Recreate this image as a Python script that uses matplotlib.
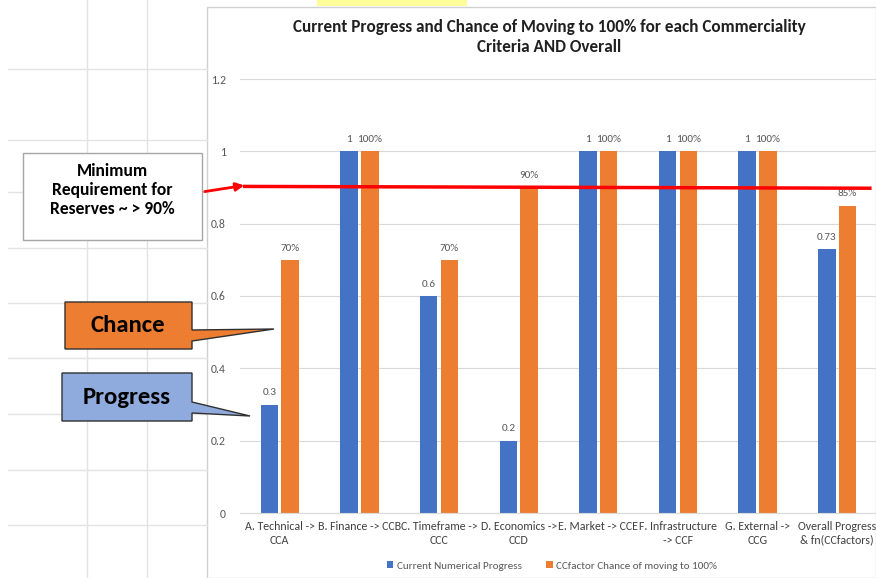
import numpy as np
import matplotlib.pyplot as plt
from matplotlib.patches import Polygon, Rectangle

plt.rcParams['font.family'] = ['Carlito', 'Lato', 'DejaVu Sans']

categories = ["A. Technical ->\nCCA", "B. Finance -> CCB", "C. Timeframe ->\nCCC",
              "D. Economics ->\nCCD", "E. Market -> CCE", "F. Infrastructure\n-> CCF",
              "G. External ->\nCCG", "Overall Progress\n& fn(CCfactors)"]
progress = [0.3, 1, 0.6, 0.2, 1, 1, 1, 0.73]
chance = [0.7, 1, 0.7, 0.9, 1, 1, 1, 0.85]
progress_labels = ["0.3", "1", "0.6", "0.2", "1", "1", "1", "0.73"]
chance_labels = ["70%", "100%", "70%", "90%", "100%", "100%", "100%", "85%"]
min_requirement = 0.9

BLUE = "#4472C4"
ORANGE = "#ED7D31"
GRAY = "#595959"
W, H = 876, 578

fig = plt.figure(figsize=(W / 100, H / 100), dpi=100)

# spreadsheet background (pixel coords)
bg = fig.add_axes([0, 0, 1, 1], zorder=0)
bg.set_xlim(0, W)
bg.set_ylim(H, 0)
bg.axis("off")
for y in [69, 140, 192, 248, 303, 358, 414, 470, 525]:
    bg.plot([8, 207], [y, y], color="#E3E3E3", lw=1)
for x in [87, 147]:
    bg.plot([x, x], [0, H], color="#E3E3E3", lw=1)
bg.add_patch(Rectangle((317, 0), 150, 6, color="#FFFF99", lw=0))
bg.add_patch(Rectangle((207, 7), W - 207, H - 7, facecolor="white",
                       edgecolor="#D0D0D0", lw=1))

# main chart
ax = fig.add_axes([240 / W, 65 / H, 637 / W, 434 / H], zorder=1)
ax.patch.set_alpha(0)
x = np.arange(len(categories))
bw = 0.22
off = 0.13
ax.bar(x - off, progress, bw, color=BLUE, label="Current Numerical Progress", zorder=2)
ax.bar(x + off, chance, bw, color=ORANGE, label="CCfactor Chance of moving to 100%", zorder=2)
for xi, v, t in zip(x, progress, progress_labels):
    ax.text(xi - off, v + 0.02, t, ha="center", va="bottom", fontsize=8, color=GRAY)
for xi, v, t in zip(x, chance, chance_labels):
    ax.text(xi + off, v + 0.02, t, ha="center", va="bottom", fontsize=8, color=GRAY)

ax.set_xlim(-0.5, len(categories) - 0.5)
ax.set_ylim(0, 1.2)
ax.set_yticks(np.arange(0, 1.21, 0.2))
ax.set_yticklabels(["0", "0.2", "0.4", "0.6", "0.8", "1", "1.2"])
ax.set_xticks(x)
ax.set_xticklabels(categories, fontsize=8.6, color="#404040", linespacing=1.25)
ax.tick_params(axis="y", length=0, pad=10, labelsize=8.5, labelcolor=GRAY)
ax.tick_params(axis="x", length=0, pad=6)
ax.grid(axis="y", color="#D9D9D9", lw=0.8, zorder=0)
for s in ["top", "right", "left"]:
    ax.spines[s].set_visible(False)
ax.spines["bottom"].set_color("#D9D9D9")

# red minimum requirement line
ax.plot([-0.44, 7.41], [min_requirement + 0.003, min_requirement - 0.002],
        color="#FF0000", lw=2.5, zorder=3, clip_on=False)

fig.text(549 / W, 1 - 37 / H,
         "Current Progress and Chance of Moving to 100% for each Commerciality\nCriteria AND Overall",
         ha="center", va="center", fontsize=12.3, fontweight="bold", color="#202020",
         linespacing=1.35)

fig.legend(loc="center", bbox_to_anchor=(552 / W, 1 - 566 / H), ncol=2, frameon=False,
           fontsize=8, labelcolor=GRAY, handlelength=0.6, handleheight=0.6,
           handletextpad=0.3, columnspacing=2.2)

# callouts (pixel coords)
top = fig.add_axes([0, 0, 1, 1], zorder=3)
top.set_xlim(0, W)
top.set_ylim(H, 0)
top.axis("off")
top.patch.set_alpha(0)

top.add_patch(Rectangle((23, 153), 179, 87, facecolor="white", edgecolor="#A6A6A6", lw=1))
top.text(112, 190, "Minimum\nRequirement for\nReserves ~ > 90%", ha="center", va="center",
         fontsize=12.6, fontweight="bold", color="black", linespacing=1.25)
top.annotate("", xy=(247, 185), xytext=(202, 192),
             arrowprops=dict(arrowstyle="-|>", color="#FF0000", lw=2, mutation_scale=12))

chance_pts = [(65, 302), (192, 302), (192, 330), (274, 329), (192, 341), (192, 349), (65, 349)]
top.add_patch(Polygon(chance_pts, closed=True, facecolor=ORANGE, edgecolor="#303030", lw=1))
top.text(128, 326, "Chance", ha="center", va="center", fontsize=17.8, fontweight="bold")

progress_pts = [(62, 373), (192, 373), (192, 402), (250, 416), (192, 413), (192, 421), (62, 421)]
top.add_patch(Polygon(progress_pts, closed=True, facecolor="#8FAADC", edgecolor="#303030", lw=1))
top.text(127, 397, "Progress", ha="center", va="center", fontsize=17.8, fontweight="bold")

fig.savefig("out.png", dpi=100)
